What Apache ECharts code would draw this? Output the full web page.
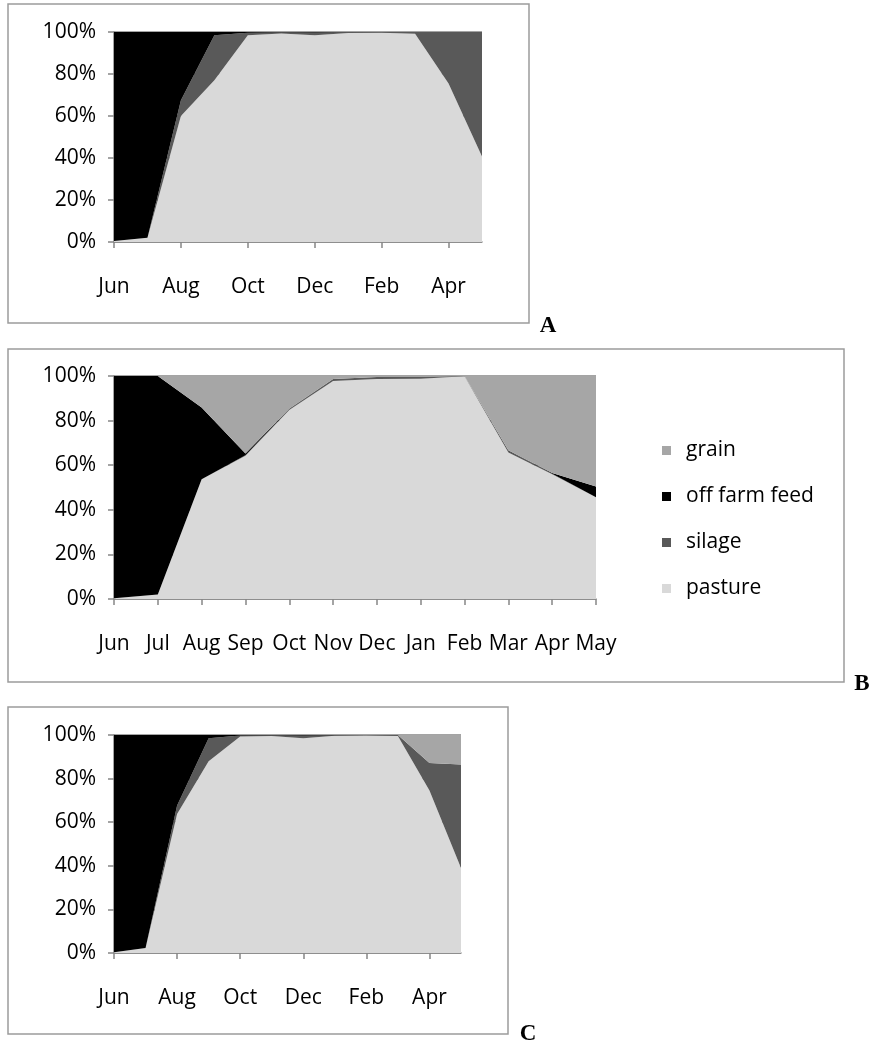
<!DOCTYPE html>
<html>
<head>
<meta charset="utf-8">
<script src="https://cdn.jsdelivr.net/npm/echarts@6/dist/echarts.min.js"></script>
<style>
  html, body { margin: 0; padding: 0; background: #fff; }
  #main { width: 874px; height: 1049px; }
</style>
</head>
<body>
<div id="main"></div>
<script>
// months along the x axis (Jun .. May)
var months = ['Jun', 'Jul', 'Aug', 'Sep', 'Oct', 'Nov', 'Dec', 'Jan', 'Feb', 'Mar', 'Apr', 'May'];
var legendNames = ['grain', 'off farm feed', 'silage', 'pasture'];

// panel A, share of diet (%)
var pastureA = [0.5, 2, 60, 77, 98.5, 99.3, 98.5, 99.5, 99.7, 99.2, 75.5, 40.7];
var silageA  = [0, 0, 7.5, 21.5, 1.2, 0.6, 1.3, 0.5, 0.3, 0.8, 24.5, 59.3];
var offFarmA = [99.5, 98, 32.5, 1.5, 0.3, 0.1, 0.2, 0, 0, 0, 0, 0];
var grainA   = [0, 0, 0, 0, 0, 0, 0, 0, 0, 0, 0, 0];

// panel B
var pastureB = [0.3, 2, 53.7, 64.2, 84.8, 97.8, 98.6, 98.8, 99.9, 65.7, 55.9, 45.6];
var silageB  = [0, 0, 0, 0.3, 0.3, 0.8, 0.9, 0.8, 0.1, 1, 0.3, 0];
var offFarmB = [99.7, 98, 32.2, 0.8, 0.2, 0, 0, 0, 0, 0, 0.3, 4.8];
var grainB   = [0, 0, 14.1, 34.7, 14.7, 1.4, 0.5, 0.4, 0, 33.3, 43.5, 49.6];

// panel C
var pastureC = [0.3, 2.3, 63.8, 88, 99.3, 99.5, 98.5, 99.6, 99.8, 99.5, 74.5, 39];
var silageC  = [0, 0, 3.9, 10.5, 0.5, 0.4, 1.3, 0.3, 0.2, 0.5, 12.7, 47.5];
var offFarmC = [99.7, 97.7, 32.3, 1.5, 0.2, 0.1, 0.2, 0.1, 0, 0, 0, 0];
var grainC   = [0, 0, 0, 0, 0, 0, 0, 0, 0, 0, 12.8, 13.5];

var colors = { pasture: '#d9d9d9', silage: '#595959', 'off farm feed': '#000000', grain: '#a6a6a6' };
var axisGray = '#868686';
var font = '"Open Sans", sans-serif';

var myChart = echarts.init(document.getElementById('main'));

function xAxisFor(idx, every) {
    return {
        type: 'category', gridIndex: idx, data: months, boundaryGap: false,
        axisLine: { lineStyle: { color: axisGray, width: 1.5 } },
        axisTick: { show: true, interval: every, length: 6, lineStyle: { color: axisGray, width: 1.5 } },
        axisLabel: { interval: every, margin: 35, color: '#000', fontSize: 21, fontFamily: font }
    };
}

function yAxisFor(idx) {
    return {
        type: 'value', gridIndex: idx, min: 0, max: 100, interval: 20,
        axisLine: { show: true, lineStyle: { color: axisGray, width: 1.5 } },
        axisTick: { show: true, length: 6, lineStyle: { color: axisGray, width: 1.5 } },
        axisLabel: { formatter: '{value}%', margin: 18, color: '#000', fontSize: 21, fontFamily: font },
        splitLine: { show: true, lineStyle: { color: axisGray, width: 1.5 } }
    };
}

function area(name, data, idx) {
    return {
        name: name, type: 'line', stack: 'p' + idx, data: data,
        xAxisIndex: idx, yAxisIndex: idx,
        symbol: 'none', silent: true,
        lineStyle: { width: 0 },
        itemStyle: { color: colors[name] },
        areaStyle: { color: colors[name], opacity: 1 }
    };
}

var panels = [
    [pastureA, silageA, offFarmA, grainA],
    [pastureB, silageB, offFarmB, grainB],
    [pastureC, silageC, offFarmC, grainC]
];
var series = [];
panels.forEach(function (p, i) {
    series.push(area('pasture', p[0], i));
    series.push(area('silage', p[1], i));
    series.push(area('off farm feed', p[2], i));
    series.push(area('grain', p[3], i));
});

function box(x, y, w, h) {
    return { type: 'rect', shape: { x: x, y: y, width: w, height: h },
             style: { fill: 'none', stroke: '#9c9c9c', lineWidth: 1.5 }, z: -1 };
}
function letter(t, x, y) {
    return { type: 'text', x: x, y: y,
             style: { text: t, fill: '#000', font: 'bold 23px "Liberation Serif", serif',
                      textAlign: 'center', textVerticalAlign: 'middle' } };
}

option = {
    animation: false,
    backgroundColor: '#fff',
    grid: [
        { left: 114, top: 32, width: 368, height: 210 },
        { left: 114, top: 376, width: 482, height: 223 },
        { left: 114, top: 735, width: 347, height: 218 }
    ],
    xAxis: [xAxisFor(0, 1), xAxisFor(1, 0), xAxisFor(2, 1)],
    yAxis: [yAxisFor(0), yAxisFor(1), yAxisFor(2)],
    legend: {
        data: legendNames, orient: 'vertical', left: 662, top: 440, padding: 0,
        itemWidth: 9, itemHeight: 9, itemGap: 25, icon: 'rect',
        selectedMode: false,
        textStyle: { fontSize: 21, fontFamily: font, color: '#000', lineHeight: 21, padding: [0, 0, 0, 10] }
    },
    graphic: [
        box(8, 4, 521, 319),
        box(8, 349, 836, 333),
        box(8, 707, 500, 327),
        letter('A', 548, 326),
        letter('B', 862, 684),
        letter('C', 528, 1034)
    ],
    series: series
};

myChart.setOption(option);
</script>
</body>
</html>
